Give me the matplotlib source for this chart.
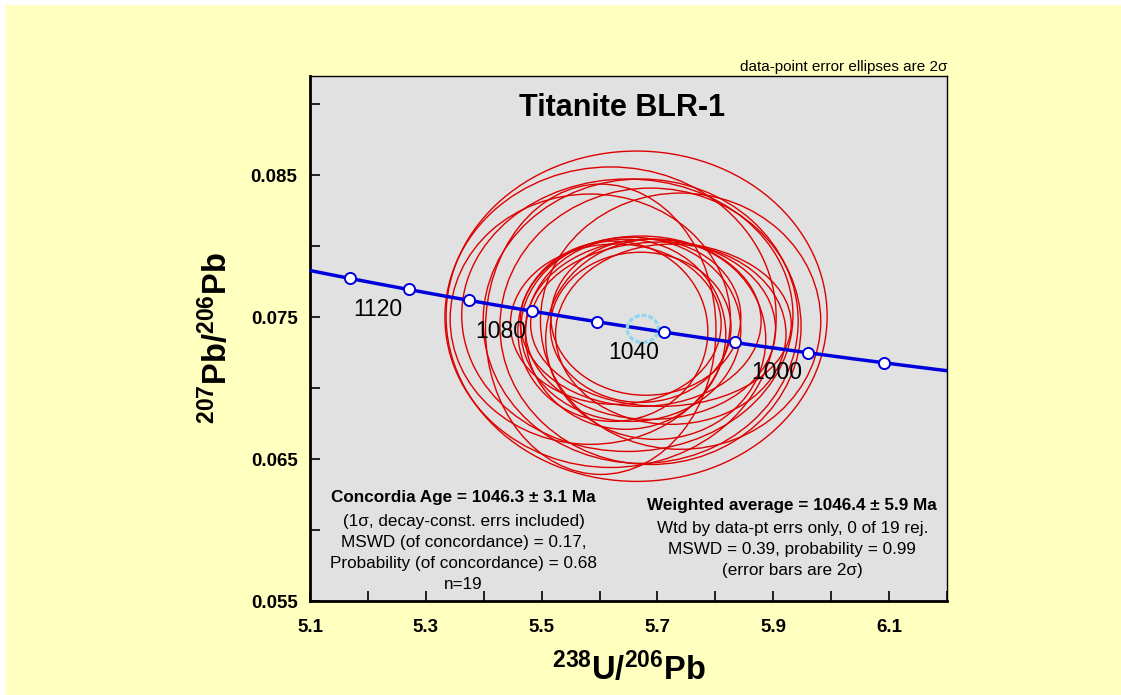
import numpy as np
import matplotlib
matplotlib.use("Agg")
import matplotlib.pyplot as plt
from matplotlib.patches import Ellipse, Rectangle
from matplotlib.ticker import MultipleLocator

plt.rcParams.update({
    "font.family": ["Liberation Sans", "DejaVu Sans"],
    "mathtext.fontset": "custom",
    "mathtext.rm": "Liberation Sans",
    "mathtext.bf": "Liberation Sans:bold",
})

# data-point ellipses (centres and 2-sigma errors)
u238_pb206 = [5.664, 5.619, 5.671, 5.648, 5.602, 5.688, 5.740, 5.584, 5.671, 5.688,
              5.654, 5.706, 5.645, 5.680, 5.723, 5.628, 5.697, 5.671, 5.623]
u238_err2s = [0.329, 0.286, 0.272, 0.286, 0.199, 0.260, 0.242, 0.242, 0.208, 0.216,
              0.190, 0.225, 0.173, 0.164, 0.199, 0.182, 0.190, 0.156, 0.164]
pb207_pb206 = [0.07507, 0.07500, 0.07472, 0.07514, 0.07415, 0.07436, 0.07472, 0.07486,
               0.07472, 0.07415, 0.07415, 0.07451, 0.07380, 0.07500, 0.07380, 0.07451,
               0.07345, 0.07429, 0.07401]
pb207_err2s = [0.01164, 0.01059, 0.01002, 0.00960, 0.01023, 0.00974, 0.00903, 0.00882,
               0.00600, 0.00635, 0.00649, 0.00579, 0.00670, 0.00550, 0.00635, 0.00565,
               0.00706, 0.00529, 0.00635]

# concordia age ellipse
conc_age = 1046.3
conc_err_x = 0.027
conc_err_y = 0.00095

marker_ages = [980, 1000, 1020, 1040, 1060, 1080, 1100, 1120, 1140]
label_ages = [1000, 1040, 1080, 1120]

L238 = 1.55125e-10
L235 = 9.8485e-10
U_RATIO = 137.88


def tw(age_ma):
    t = np.asarray(age_ma, dtype=float) * 1e6
    e8 = np.exp(L238 * t) - 1
    e5 = np.exp(L235 * t) - 1
    return 1 / e8, e5 / e8 / U_RATIO


fig = plt.figure(figsize=(11.21, 6.95), dpi=100, facecolor="white")
fig.patches.append(Rectangle((6 / 1121, 0), 1, 1 - 5 / 695, transform=fig.transFigure,
                             facecolor="#ffffc0", edgecolor="none", zorder=-10))
ax = fig.add_axes([310 / 1121, 94 / 695, 637 / 1121, 525 / 695])
ax.set_facecolor("#e1e1e1")
ax.set_xlim(5.1, 6.2)
ax.set_ylim(0.055, 0.092)

for x, ex, y, ey in zip(u238_pb206, u238_err2s, pb207_pb206, pb207_err2s):
    ax.add_patch(Ellipse((x, y), 2 * ex, 2 * ey, facecolor="none",
                         edgecolor="#dd0000", lw=1.0, zorder=3))

ages = np.linspace(900, 1250, 400)
cx, cy = tw(ages)
ax.plot(cx, cy, color="#0000dd", lw=2.5, zorder=4)

cax, cay = tw(conc_age)
ax.add_patch(Ellipse((cax, cay), 2 * conc_err_x, 2 * conc_err_y, facecolor="none",
                     edgecolor="#8fd6f0", lw=2.4, ls=(0, (1.5, 0.6)), zorder=5))

mx, my = tw(marker_ages)
ax.plot(mx, my, "o", ms=8, mfc="white", mec="#0000dd", mew=1.4, zorder=6)
for a in label_ages:
    lx, ly = tw(a)
    ax.annotate(str(a), (lx, ly), xytext=(-31, -20), textcoords="offset pixels",
                ha="center", va="center", fontsize=16.5, zorder=7)

ax.set_xticks(np.arange(5.1, 6.15, 0.2))
ax.set_yticks(np.arange(0.055, 0.0855, 0.01))
ax.xaxis.set_minor_locator(MultipleLocator(0.1))
ax.yaxis.set_minor_locator(MultipleLocator(0.005))
ax.set_xticklabels(["%.1f" % v for v in np.arange(5.1, 6.15, 0.2)])
ax.set_yticklabels(["%.3f" % v for v in np.arange(0.055, 0.0855, 0.01)])
ax.tick_params(which="both", direction="in", width=1.2, length=7, labelsize=13.5)
ax.tick_params(axis="x", pad=13)
ax.tick_params(axis="y", pad=9)
for lab in ax.get_xticklabels() + ax.get_yticklabels():
    lab.set_fontweight("bold")
for s in ["left", "bottom"]:
    ax.spines[s].set_linewidth(2)
for s in ["top", "right"]:
    ax.spines[s].set_linewidth(1)

ax.set_xlabel(r"$\mathbf{^{238}U/^{206}Pb}$", fontsize=23.5, labelpad=11)
ax.set_ylabel(r"$\mathbf{^{207}Pb/^{206}Pb}$", fontsize=23.5, labelpad=12)

ax.text(0.49, 0.94, "Titanite BLR-1", transform=ax.transAxes, ha="center", va="center",
        fontsize=22, fontweight="bold")
ax.text(1.0, 1.004, "data-point error ellipses are 2σ", transform=ax.transAxes,
        ha="right", va="bottom", fontsize=11)

left_lines = ["(1σ, decay-const. errs included)", "MSWD (of concordance) = 0.17,",
              "Probability (of concordance) = 0.68", "n=19"]
ax.text(0.241, 0.197, "Concordia Age = 1046.3 ± 3.1 Ma", transform=ax.transAxes,
        ha="center", va="center", fontsize=12.3, fontweight="bold")
for i, t in enumerate(left_lines):
    ax.text(0.241, 0.152 - i * 0.04, t, transform=ax.transAxes, ha="center",
            va="center", fontsize=12.3)

right_lines = ["Wtd by data-pt errs only, 0 of 19 rej.", "MSWD = 0.39, probability = 0.99",
               "(error bars are 2σ)"]
ax.text(0.757, 0.181, "Weighted average = 1046.4 ± 5.9 Ma", transform=ax.transAxes,
        ha="center", va="center", fontsize=12.3, fontweight="bold")
for i, t in enumerate(right_lines):
    ax.text(0.757, 0.139 - i * 0.04, t, transform=ax.transAxes, ha="center",
            va="center", fontsize=12.3)

fig.savefig("out.png", dpi=100, facecolor=fig.get_facecolor())
